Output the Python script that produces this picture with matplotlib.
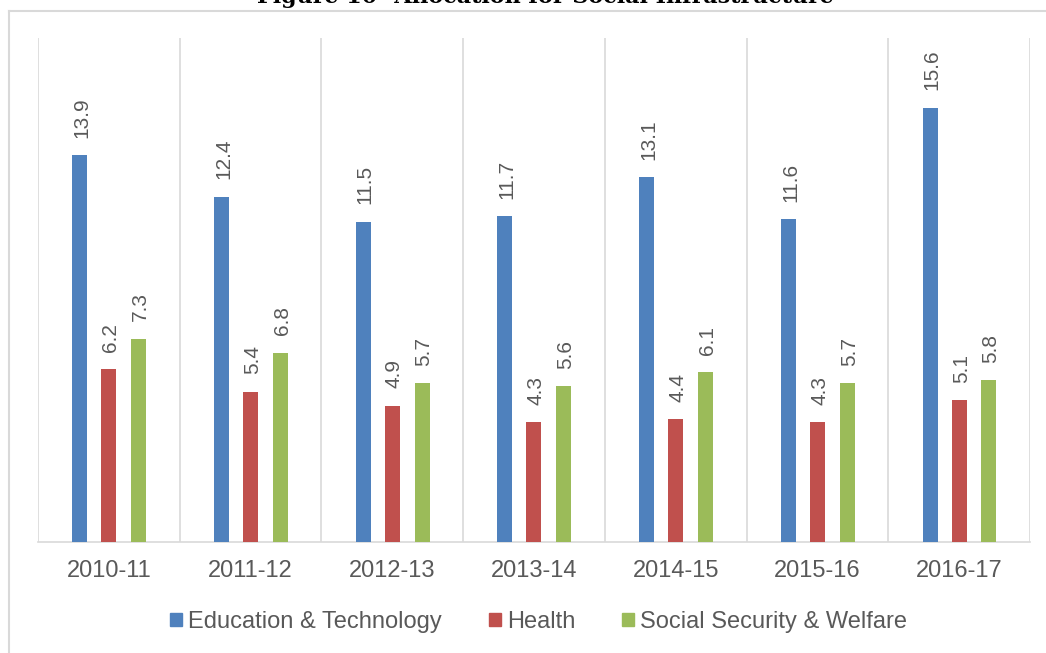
import matplotlib.pyplot as plt
from matplotlib.patches import Rectangle
from matplotlib.lines import Line2D
import numpy as np

# Allocation for social infrastructure, share of spending by year
years = ['2010-11', '2011-12', '2012-13', '2013-14', '2014-15', '2015-16', '2016-17']
education = [13.9, 12.4, 11.5, 11.7, 13.1, 11.6, 15.6]
health = [6.2, 5.4, 4.9, 4.3, 4.4, 4.3, 5.1]
welfare = [7.3, 6.8, 5.7, 5.6, 6.1, 5.7, 5.8]

series = [('Education & Technology', education, '#4F81BD'),
          ('Health', health, '#C0504D'),
          ('Social Security & Welfare', welfare, '#9BBB59')]

plt.rcParams['font.family'] = ['Liberation Sans', 'DejaVu Sans']
text_color = '#595959'
grid_color = '#d9d9d9'

fig = plt.figure(figsize=(10.46, 6.53), dpi=100)
ax = fig.add_axes([0.0363, 0.170, 0.9484, 0.7718])

x = np.arange(len(years))
width = 0.106
offsets = [-0.205, 0.0, 0.21]

for (name, vals, color), off in zip(series, offsets):
    bars = ax.bar(x + off, vals, width, color=color, label=name, zorder=3)
    for b, v in zip(bars, vals):
        ax.annotate(f'{v:.1f}', (b.get_x() + b.get_width() / 2, v),
                    xytext=(1.5, 12.5), textcoords='offset points',
                    rotation=90, ha='center', va='bottom',
                    fontsize=15, color=text_color)

# category separators
for k in range(len(years) + 1):
    ax.axvline(k - 0.5, color=grid_color, linewidth=1.2, zorder=1)

ax.set_xlim(-0.5, len(years) - 0.5)
ax.set_ylim(0, 18.1)
ax.set_yticks([])
ax.set_xticks(x)
ax.set_xticklabels(years, fontsize=17, color=text_color)
ax.tick_params(axis='x', length=0, pad=13)
for side in ['top', 'left', 'right']:
    ax.spines[side].set_visible(False)
ax.spines['bottom'].set_color(grid_color)
ax.spines['bottom'].set_linewidth(1.2)

handles = [Rectangle((0, 0), 1, 1, color=c) for _, _, c in series]
labels = [n for n, _, _ in series]
fig.legend(handles, labels, loc='center', bbox_to_anchor=(0.515, 1 - 622 / 653),
           ncol=3, frameon=False, fontsize=17, labelcolor=text_color,
           handlelength=0.5, handleheight=0.5, handletextpad=0.25,
           columnspacing=2.0)

# outer frame of the chart box
fig.add_artist(Line2D([9 / 1046, 1.0], [1 - 11 / 653, 1 - 11 / 653],
                      color=grid_color, linewidth=1.5, transform=fig.transFigure))
fig.add_artist(Line2D([9 / 1046, 9 / 1046], [0.0, 1 - 11 / 653],
                      color=grid_color, linewidth=1.5, transform=fig.transFigure))

fig.text(545 / 1046, 1 - 3 / 653, 'Figure 10- Allocation for Social Infrastructure',
         ha='center', va='baseline', fontsize=16, fontweight='bold',
         family='DejaVu Serif', color='black')

fig.savefig('out.png', dpi=100, facecolor='white')
